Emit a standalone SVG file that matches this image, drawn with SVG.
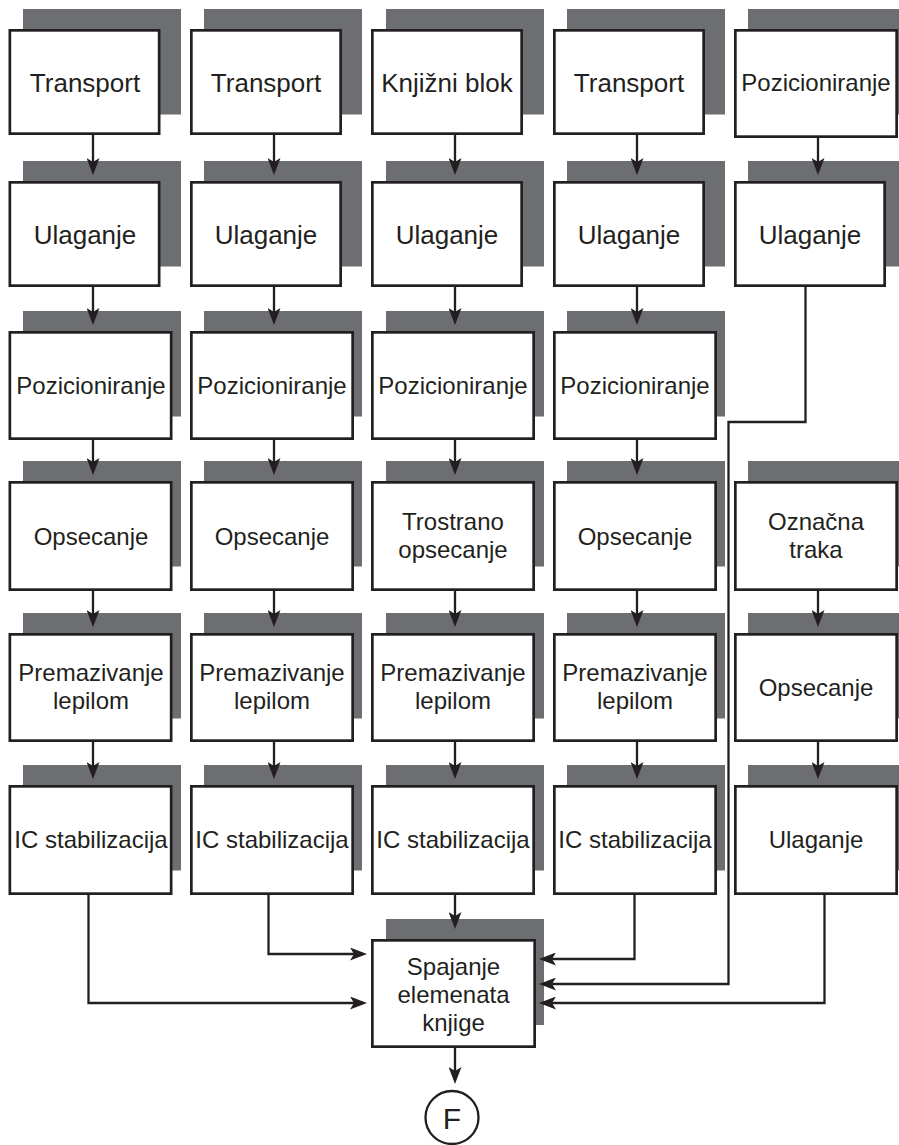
<svg xmlns="http://www.w3.org/2000/svg" width="899" height="1145" viewBox="0 0 899 1145">
<style>
.sh{fill:#6d6e71;stroke:none}
.bx{fill:#fff;stroke:#231f20;stroke-width:2.7}
.t{font-family:"Liberation Sans",Arial,Helvetica,sans-serif;fill:#231f20;text-anchor:middle}
.n{font-size:26px}
.w{font-size:24px}
.c{fill:none;stroke:#231f20;stroke-width:2.3}
</style>
<defs>
<marker id="ah" viewBox="0 0 17 13" refX="13" refY="6.5" markerWidth="17" markerHeight="13" markerUnits="userSpaceOnUse" orient="auto">
<path d="M0,0 L17,6.5 L0,13 L4,6.5 Z" fill="#231f20"/>
</marker>
</defs>
<rect width="899" height="1145" fill="#fff"/>
<!-- Row 1 -->
<g id="n1-1"><rect class="sh" x="23" y="9" width="158" height="105.5"/><rect class="bx" x="9.85" y="30.35" width="149.3" height="103.3"/><text class="t n" x="85" y="91.5">Transport</text></g>
<g id="n2-1"><rect class="sh" x="204" y="9" width="158" height="105.5"/><rect class="bx" x="191.35" y="30.35" width="149.3" height="103.3"/><text class="t n" x="266" y="91.5">Transport</text></g>
<g id="n3-1"><rect class="sh" x="386" y="9" width="158" height="105.5"/><rect class="bx" x="372.35" y="30.35" width="149.3" height="103.3"/><text class="t n" x="447" y="91.5">Knjižni blok</text></g>
<g id="n4-1"><rect class="sh" x="567" y="9" width="158" height="105.5"/><rect class="bx" x="554.35" y="30.35" width="149.3" height="103.3"/><text class="t n" x="629" y="91.5">Transport</text></g>
<g id="n5-1"><rect class="sh" x="748" y="9" width="158" height="105.5"/><rect class="bx" x="735.35" y="30.35" width="161.3" height="106.3"/><text class="t w" x="816" y="91">Pozicioniranje</text></g>
<!-- Row 2 -->
<g id="n1-2"><rect class="sh" x="23" y="161" width="158" height="105.5"/><rect class="bx" x="9.85" y="182.35" width="149.3" height="103.3"/><text class="t n" x="85" y="243.5">Ulaganje</text></g>
<g id="n2-2"><rect class="sh" x="204" y="161" width="158" height="105.5"/><rect class="bx" x="191.35" y="182.35" width="149.3" height="103.3"/><text class="t n" x="266" y="243.5">Ulaganje</text></g>
<g id="n3-2"><rect class="sh" x="386" y="161" width="158" height="105.5"/><rect class="bx" x="372.35" y="182.35" width="149.3" height="103.3"/><text class="t n" x="447" y="243.5">Ulaganje</text></g>
<g id="n4-2"><rect class="sh" x="567" y="161" width="158" height="105.5"/><rect class="bx" x="554.35" y="182.35" width="149.3" height="103.3"/><text class="t n" x="629" y="243.5">Ulaganje</text></g>
<g id="n5-2"><rect class="sh" x="748" y="161" width="158" height="105.5"/><rect class="bx" x="735.35" y="182.35" width="149.3" height="103.3"/><text class="t n" x="810" y="243.5">Ulaganje</text></g>
<!-- Row 3 -->
<g id="n1-3"><rect class="sh" x="23" y="311" width="158" height="105.5"/><rect class="bx" x="9.85" y="332.35" width="161.3" height="106.3"/><text class="t w" x="91" y="394">Pozicioniranje</text></g>
<g id="n2-3"><rect class="sh" x="204" y="311" width="158" height="105.5"/><rect class="bx" x="191.35" y="332.35" width="161.3" height="106.3"/><text class="t w" x="272" y="394">Pozicioniranje</text></g>
<g id="n3-3"><rect class="sh" x="386" y="311" width="158" height="105.5"/><rect class="bx" x="372.35" y="332.35" width="161.3" height="106.3"/><text class="t w" x="453" y="394">Pozicioniranje</text></g>
<g id="n4-3"><rect class="sh" x="567" y="311" width="158" height="105.5"/><rect class="bx" x="554.35" y="332.35" width="161.3" height="106.3"/><text class="t w" x="635" y="394">Pozicioniranje</text></g>
<!-- Row 4 -->
<g id="n1-4"><rect class="sh" x="23" y="461" width="158" height="105.5"/><rect class="bx" x="9.85" y="482.35" width="161.3" height="107.3"/><text class="t w" x="91" y="544.5">Opsecanje</text></g>
<g id="n2-4"><rect class="sh" x="204" y="461" width="158" height="105.5"/><rect class="bx" x="191.35" y="482.35" width="161.3" height="107.3"/><text class="t w" x="272" y="544.5">Opsecanje</text></g>
<g id="n3-4"><rect class="sh" x="386" y="461" width="158" height="105.5"/><rect class="bx" x="372.35" y="482.35" width="161.3" height="107.3"/><text class="t w" x="453" y="530">Trostrano</text><text class="t w" x="453" y="558">opsecanje</text></g>
<g id="n4-4"><rect class="sh" x="567" y="461" width="158" height="105.5"/><rect class="bx" x="554.35" y="482.35" width="161.3" height="107.3"/><text class="t w" x="635" y="544.5">Opsecanje</text></g>
<g id="n5-4"><rect class="sh" x="748" y="461" width="158" height="105.5"/><rect class="bx" x="735.35" y="482.35" width="161.3" height="107.3"/><text class="t w" x="816" y="530">Označna</text><text class="t w" x="816" y="558">traka</text></g>
<!-- Row 5 -->
<g id="n1-5"><rect class="sh" x="23" y="613" width="158" height="105.5"/><rect class="bx" x="9.85" y="634.35" width="161.3" height="106.3"/><text class="t w" x="91" y="680.5">Premazivanje</text><text class="t w" x="91" y="709">lepilom</text></g>
<g id="n2-5"><rect class="sh" x="204" y="613" width="158" height="105.5"/><rect class="bx" x="191.35" y="634.35" width="161.3" height="106.3"/><text class="t w" x="272" y="680.5">Premazivanje</text><text class="t w" x="272" y="709">lepilom</text></g>
<g id="n3-5"><rect class="sh" x="386" y="613" width="158" height="105.5"/><rect class="bx" x="372.35" y="634.35" width="161.3" height="106.3"/><text class="t w" x="453" y="680.5">Premazivanje</text><text class="t w" x="453" y="709">lepilom</text></g>
<g id="n4-5"><rect class="sh" x="567" y="613" width="158" height="105.5"/><rect class="bx" x="554.35" y="634.35" width="161.3" height="106.3"/><text class="t w" x="635" y="680.5">Premazivanje</text><text class="t w" x="635" y="709">lepilom</text></g>
<g id="n5-5"><rect class="sh" x="748" y="613" width="158" height="105.5"/><rect class="bx" x="735.35" y="634.35" width="161.3" height="106.3"/><text class="t w" x="816" y="696">Opsecanje</text></g>
<!-- Row 6 -->
<g id="n1-6"><rect class="sh" x="23" y="765" width="158" height="105.5"/><rect class="bx" x="9.85" y="786.35" width="161.3" height="107.3"/><text class="t w" x="91" y="848">IC stabilizacija</text></g>
<g id="n2-6"><rect class="sh" x="204" y="765" width="158" height="105.5"/><rect class="bx" x="191.35" y="786.35" width="161.3" height="107.3"/><text class="t w" x="272" y="848">IC stabilizacija</text></g>
<g id="n3-6"><rect class="sh" x="386" y="765" width="158" height="105.5"/><rect class="bx" x="372.35" y="786.35" width="161.3" height="107.3"/><text class="t w" x="453" y="848">IC stabilizacija</text></g>
<g id="n4-6"><rect class="sh" x="567" y="765" width="158" height="105.5"/><rect class="bx" x="554.35" y="786.35" width="161.3" height="107.3"/><text class="t w" x="635" y="848">IC stabilizacija</text></g>
<g id="n5-6"><rect class="sh" x="748" y="765" width="158" height="105.5"/><rect class="bx" x="735.35" y="786.35" width="161.3" height="107.3"/><text class="t w" x="816" y="848">Ulaganje</text></g>
<!-- Spajanje -->
<g id="spajanje"><rect class="sh" x="386" y="919" width="158" height="106"/><rect class="bx" x="372.35" y="940.35" width="162.3" height="106.3"/><text class="t w" x="453.5" y="975">Spajanje</text><text class="t w" x="453.5" y="1003">elemenata</text><text class="t w" x="453.5" y="1031">knjige</text></g>
<!-- End -->
<g id="end"><circle cx="452" cy="1117.5" r="26.5" fill="#fff" stroke="#231f20" stroke-width="2.3"/><text class="t" x="452" y="1128.5" font-size="30">F</text></g>
<!-- Connectors -->
<g id="connectors">
<path class="c" marker-end="url(#ah)" d="M93,135 V171"/>
<path class="c" marker-end="url(#ah)" d="M93,287 V321"/>
<path class="c" marker-end="url(#ah)" d="M93,440 V471"/>
<path class="c" marker-end="url(#ah)" d="M93,591 V623"/>
<path class="c" marker-end="url(#ah)" d="M93,742 V775"/>
<path class="c" marker-end="url(#ah)" d="M274,135 V171"/>
<path class="c" marker-end="url(#ah)" d="M274,287 V321"/>
<path class="c" marker-end="url(#ah)" d="M274,440 V471"/>
<path class="c" marker-end="url(#ah)" d="M274,591 V623"/>
<path class="c" marker-end="url(#ah)" d="M274,742 V775"/>
<path class="c" marker-end="url(#ah)" d="M455,135 V171"/>
<path class="c" marker-end="url(#ah)" d="M455,287 V321"/>
<path class="c" marker-end="url(#ah)" d="M455,440 V471"/>
<path class="c" marker-end="url(#ah)" d="M455,591 V623"/>
<path class="c" marker-end="url(#ah)" d="M455,742 V775"/>
<path class="c" marker-end="url(#ah)" d="M455,895 V925"/>
<path class="c" marker-end="url(#ah)" d="M637,135 V171"/>
<path class="c" marker-end="url(#ah)" d="M637,287 V321"/>
<path class="c" marker-end="url(#ah)" d="M637,440 V471"/>
<path class="c" marker-end="url(#ah)" d="M637,591 V623"/>
<path class="c" marker-end="url(#ah)" d="M637,742 V775"/>
<path class="c" marker-end="url(#ah)" d="M818,138 V171"/>
<path class="c" marker-end="url(#ah)" d="M818,591 V623"/>
<path class="c" marker-end="url(#ah)" d="M818,742 V775"/>
<path class="c" marker-end="url(#ah)" d="M88.5,895 V1003 H363"/>
<path class="c" marker-end="url(#ah)" d="M268.5,895 V954 H363"/>
<path class="c" marker-end="url(#ah)" d="M634.5,895 V959 H543"/>
<path class="c" marker-end="url(#ah)" d="M805.5,287 V422 H728.5 V984 H543"/>
<path class="c" marker-end="url(#ah)" d="M824.5,895 V1003 H543"/>
<path class="c" marker-end="url(#ah)" d="M455,1048 V1080"/>
</g>
</svg>
